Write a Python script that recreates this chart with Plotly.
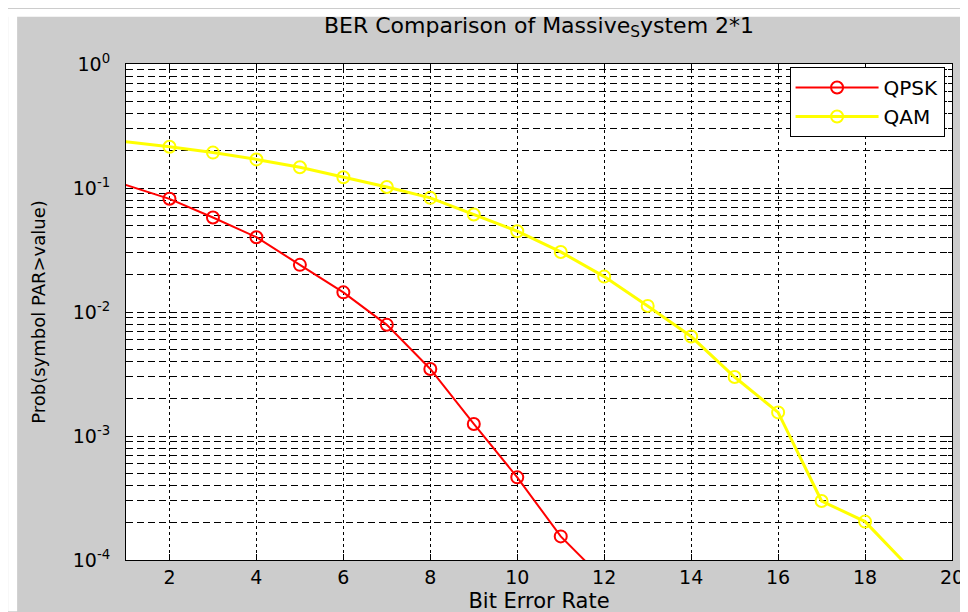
import plotly.graph_objects as go

# values (x = Bit Error Rate axis)
snr_qpsk = [0, 2, 3, 4, 5, 6, 7, 8, 9, 10, 11, 12]
ber_qpsk = [0.137, 0.0818, 0.0578, 0.0401, 0.0240, 0.0144, 0.00788,
            0.00347, 0.00125, 0.000464, 0.000155, 0.000069]

snr_qam = [0, 2, 3, 4, 5, 6, 7, 8, 9, 10, 11, 12, 13, 14, 15, 16, 17, 18, 19]
ber_qam = [0.259, 0.215, 0.193, 0.170, 0.147, 0.122, 0.102, 0.0833, 0.0611,
           0.0448, 0.0305, 0.0193, 0.0112, 0.00634, 0.00299, 0.00155,
           0.000299, 0.000204, 0.000088]

ytick_vals = [1e-4, 1e-3, 1e-2, 1e-1, 1]
ytick_text = ["10<sup>-4</sup>", "10<sup>-3</sup>", "10<sup>-2</sup>",
              "10<sup>-1</sup>", "10<sup>0</sup>"]

FONT = "DejaVu Sans"
GRAY = "#cccccc"

fig = go.Figure()
fig.add_trace(go.Scatter(
    x=snr_qpsk, y=ber_qpsk, name="QPSK", mode="lines+markers",
    line=dict(color="#ff0000", width=2),
    marker=dict(symbol="circle-open", size=12, color="#ff0000",
                line=dict(width=2, color="#ff0000"))))
fig.add_trace(go.Scatter(
    x=snr_qam, y=ber_qam, name="QAM", mode="lines+markers",
    line=dict(color="#ffff00", width=3),
    marker=dict(symbol="circle-open", size=12, color="#ffff00",
                line=dict(width=2, color="#ffff00"))))

fig.update_layout(
    width=968, height=612,
    margin=dict(l=118, r=23, t=56, b=52),
    paper_bgcolor=GRAY,
    plot_bgcolor="white",
    font=dict(family=FONT, size=19, color="black"),
    title=dict(text="BER Comparison of Massive<sub>S</sub>ystem 2*1",
               font=dict(size=22), x=0.5, xref="paper", xanchor="center",
               y=0.972, yanchor="middle"),
    legend=dict(x=0.991, y=0.994, xanchor="right", yanchor="top",
                bgcolor="white", bordercolor="black", borderwidth=1,
                font=dict(size=20), itemwidth=83, tracegroupgap=0),
    showlegend=True,
)

fig.update_xaxes(
    range=[1, 20], dtick=2, tick0=0,
    showline=True, linecolor="black", linewidth=1, mirror="allticks",
    ticks="inside", ticklen=6, tickcolor="black",
    showgrid=True, gridcolor="black", gridwidth=1, griddash="3px,3px",
    zeroline=False,
    title=dict(text="Bit Error Rate", font=dict(size=21), standoff=6),
)

fig.update_yaxes(
    type="log", range=[-4, 0],
    tickvals=ytick_vals, ticktext=ytick_text,
    showline=True, linecolor="black", linewidth=1, mirror="allticks",
    ticks="inside", ticklen=6, tickcolor="black",
    showgrid=True, gridcolor="black", gridwidth=1, griddash="7px,4px",
    minor=dict(dtick="D1", ticks="inside", ticklen=4, tickcolor="black",
               showgrid=True, gridcolor="black", gridwidth=1,
               griddash="7px,4px"),
    zeroline=False, ticklabelstandoff=11,
    title=dict(text="Prob(symbol PAR>value)", font=dict(size=18), standoff=22),
)

# white strips at the top and left edges of the picture
fig.add_shape(type="rect", xref="paper", yref="paper",
              x0=-118 / 827, x1=-109 / 827, y0=-52 / 504, y1=1 + 56 / 504,
              fillcolor="white", line_width=0, layer="below")
fig.add_shape(type="rect", xref="paper", yref="paper",
              x0=-118 / 827, x1=1 + 23 / 827, y0=1 + 48 / 504, y1=1 + 56 / 504,
              fillcolor="white", line_width=0, layer="below")

fig.write_html("out.html")
